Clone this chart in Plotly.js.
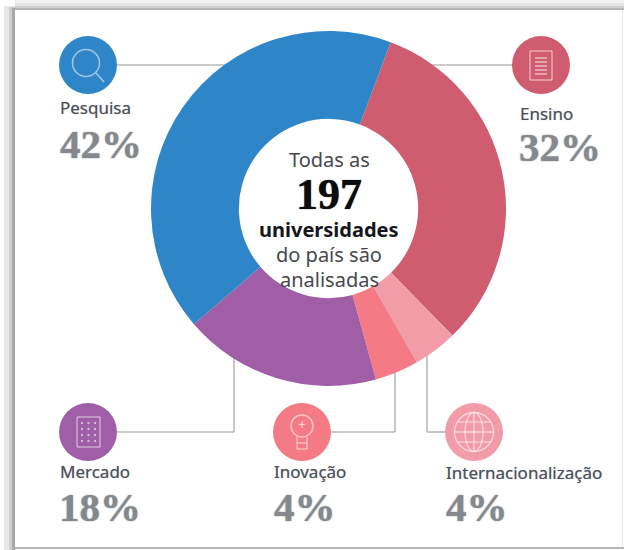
<!DOCTYPE html>
<html><head><meta charset="utf-8">
<script src="https://cdn.plot.ly/plotly-3.0.1.min.js"></script>
<style>html,body{margin:0;padding:0;background:#fff}#c{width:624px;height:550px}</style>
</head><body><div id="c"></div>
<script>
const categories = ["Ensino","Internacionalização","Inovação","Mercado","Pesquisa"];
const values = [32,4,4,18,42];
const sliceColors = ["#cf5c6f","#f29ca7","#f47a86","#a05ea6","#2e86c8"];
const W=624,H=550;
const fx=x=>x/W, fy=y=>1-y/H;
const shapes=[];
function line(x0,y0,x1,y1,c,w,layer){shapes.push({type:'line',xref:'paper',yref:'paper',x0:fx(x0),y0:fy(y0),x1:fx(x1),y1:fy(y1),line:{color:c,width:w},layer:layer||'below'});}
function rect(x0,y0,x1,y1,c){shapes.push({type:'rect',xref:'paper',yref:'paper',x0:fx(x0),y0:fy(y0),x1:fx(x1),y1:fy(y1),fillcolor:c,line:{width:0},layer:'below'});}
function circle(cx,cy,r,fill,lc,lw,layer){shapes.push({type:'circle',xref:'paper',yref:'paper',x0:fx(cx-r),x1:fx(cx+r),y0:fy(cy+r),y1:fy(cy-r),fillcolor:fill||'rgba(0,0,0,0)',line:{color:lc||fill,width:lw===undefined?0:lw},layer:layer||'above'});}
const ICON='rgba(255,255,255,0.55)';
function il(x0,y0,x1,y1,w){line(x0,y0,x1,y1,ICON,w||1.3,'above');}
function ibox(x0,y0,x1,y1){il(x0,y0,x1,y0);il(x1,y0,x1,y1);il(x1,y1,x0,y1);il(x0,y1,x0,y0);}

// frame
rect(0,0,624,10,'#e4e4e4');rect(0,0,624,3,'#f2f2f2');rect(0,6,624,9,'#d0d0d0');rect(0,8,624,10,'#b4b4b4');
rect(0,0,15,550,'#ffffff');rect(4,6,15,550,'#e8e8e8');rect(9,7,15,550,'#cfcfcf');rect(12,8,15,550,'#a9a9a9');
rect(15,547,624,549,'#b5b5b5');rect(622,10,623,547,'#e6e6e6');

// connectors
const GR='#b9b9b9';
line(117,65,230,65,GR,1.6);line(425,65,513,65,GR,1.6);
line(117,432,234,432,GR,1.6);line(234,432,234,355,GR,1.6);
line(330,432,395,432,GR,1.6);line(395,432,395,370,GR,1.6);
line(427,350,427,432,GR,1.6);line(427,432,446,432,GR,1.6);

// icon circles
circle(88,65,29,'#2e86c8');circle(541,65,29,'#cf5c6f');circle(88,432,29,'#a05ea6');circle(302,432,29,'#f47a86');circle(474,432,29,'#f29ca7');

// magnifier
circle(86,63,13.5,null,ICON,1.5);il(96,73,104,82,1.6);
// document
ibox(530,51,552,80);[58,62,66,70,74].forEach(y=>il(535,y,547,y,1.6));
// calculator / grid
ibox(77,417,100,447);[423,429,435,441].forEach(y=>[82,88.5,95].forEach(x=>circle(x,y,1.2,ICON)));
// lamp
circle(302,426,11,null,ICON,1.5);il(297,437,297,449);il(307,437,307,449);il(297,443,307,443);il(297,449,307,449);il(302,421,302,428);il(298.5,424.5,305.5,424.5);
// globe
circle(474,432,19.5,null,ICON,1.4);
shapes.push({type:'circle',xref:'paper',yref:'paper',x0:fx(465),x1:fx(483),y0:fy(451.5),y1:fy(412.5),line:{color:ICON,width:1.3},layer:'above'});
il(474,412.5,474,451.5);il(454.5,432,493.5,432);il(458,422,490,422);il(458,442,490,442);

const labelFont={family:'"Noto Sans","Open Sans",sans-serif',size:17,color:'#4b5059',shadow:'0 0 1px rgba(75,80,89,0.5)'};
const pctFont={family:'"Liberation Serif",serif',size:41,color:'#85898d',shadow:'0 0 1.5px #85898d'};
const annotations=[];
function txt(x,y,t,f,anchor){annotations.push({xref:'paper',yref:'paper',x:fx(x),y:fy(y),text:t,font:f,showarrow:false,xanchor:anchor||'left',yanchor:'middle',borderpad:0,borderwidth:0});}
const labelPos=[[60,108],[520,113],[60,471],[274,471],[446,472]];
const labelText=["Pesquisa","Ensino","Mercado","Inovação","Internacionalização"];
const pctText=["42%","32%","18%","4%","4%"];
const pctPos=[[60,144],[519,147],[59,507],[274,507],[446,507]];
labelText.forEach((t,i)=>txt(labelPos[i][0],labelPos[i][1],t,labelFont));
pctText.forEach((t,i)=>txt(pctPos[i][0],pctPos[i][1],'<b>'+t+'</b>',pctFont));

const cx=329;
const midFont={family:'"Noto Sans",sans-serif',size:20,color:'#45494f'};
txt(cx,159,'Todas as',midFont,'center');
txt(cx,194,'<b>197</b>',{family:'"Liberation Serif",serif',size:44,color:'#0c0c0c',shadow:'0 0 1px #0c0c0c'},'center');
txt(cx,229,'<b>universidades</b>',{family:'"Noto Sans",sans-serif',size:20,color:'#14161c'},'center');
txt(cx,254,'do país são',midFont,'center');
txt(cx,279,'analisadas',midFont,'center');

Plotly.newPlot('c',[{type:'pie',labels:categories,values:values,sort:false,direction:'clockwise',rotation:20.5,hole:0.505,textinfo:'none',hoverinfo:'label+percent',
 marker:{colors:sliceColors,line:{width:0}},domain:{x:[151/W,506/W],y:[1-386/H,1-31/H]}}],
 {width:W,height:H,margin:{l:0,r:0,t:0,b:0},showlegend:false,paper_bgcolor:'#fff',shapes:shapes,annotations:annotations},{displayModeBar:false,staticPlot:true});
</script></body></html>
